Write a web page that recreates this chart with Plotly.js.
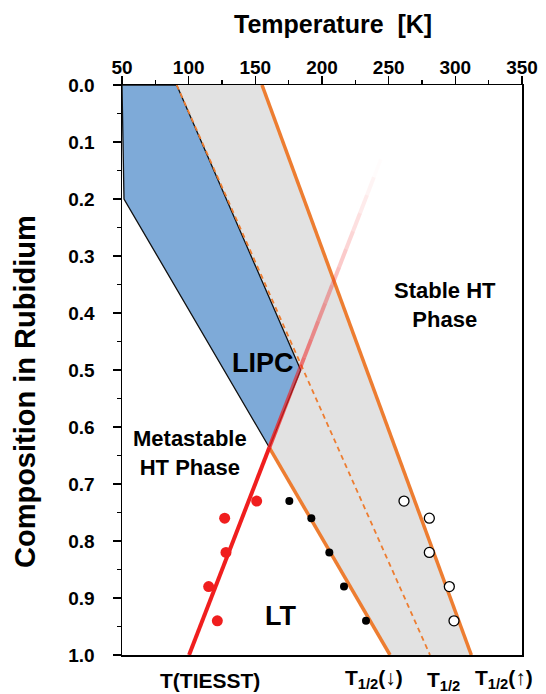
<!DOCTYPE html>
<html><head><meta charset="utf-8">
<script src="https://cdn.plot.ly/plotly-3.0.1.min.js"></script>
<style>html,body{margin:0;padding:0;background:#fff}#chart{width:546px;height:694px}</style>
</head><body><div id="chart"></div>
<script>
// ---- data ----
const lipcT = [50, 91, 184, 160.5, 51.5, 50];
const lipcComp = [0, 0, 0.5, 0.636, 0.2, 0];
const bandT = [50, 155, 312, 251, 51.5];
const bandComp = [0, 0, 1, 1, 0.2];
const halfUpT = [155, 312];
const halfUpComp = [0, 1];
const halfT = [91, 281];
const halfComp = [0, 1];
const halfDownT = [160.5, 251];
const halfDownComp = [0.636, 1];
const tiesstLineT = [100.3, 160.5];
const tiesstLineComp = [1.0, 0.636];
const tiesstFadeEndComp = 0.13;
const sampleComp = [0.73, 0.76, 0.82, 0.88, 0.94];
const tiesstT = [151, 127, 128, 115, 121.5];
const halfDownPtsT = [175.5, 192, 205.5, 216.5, 233];
const halfUpPtsT = [261.5, 280.5, 280.5, 295.5, 299];
const xTicks = [50, 100, 150, 200, 250, 300, 350];

const FONT = 'Arial, "Liberation Sans", sans-serif';
const ORANGE = '#ed7d31';
const RED = '#f01e1e';

const traces = [];
traces.push({x: bandT, y: bandComp, type: 'scatter', mode: 'lines', fill: 'toself',
  fillcolor: '#e2e2e2', line: {width: 0, color: 'rgba(0,0,0,0)'}, hoverinfo: 'skip', showlegend: false});
traces.push({x: lipcT, y: lipcComp, type: 'scatter', mode: 'lines', fill: 'toself',
  fillcolor: '#7eaad8', line: {width: 1.3, color: '#111'}, hoverinfo: 'skip', showlegend: false});
traces.push({x: halfT, y: halfComp, type: 'scatter', mode: 'lines',
  line: {width: 1.8, color: ORANGE, dash: '5px,4px'}, hoverinfo: 'skip', showlegend: false});
traces.push({x: halfUpT, y: halfUpComp, type: 'scatter', mode: 'lines',
  line: {width: 3.5, color: ORANGE}, hoverinfo: 'skip', showlegend: false});
traces.push({x: halfDownT, y: halfDownComp, type: 'scatter', mode: 'lines',
  line: {width: 3.5, color: ORANGE}, hoverinfo: 'skip', showlegend: false});
traces.push({x: tiesstLineT, y: tiesstLineComp, type: 'scatter', mode: 'lines',
  line: {width: 4, color: RED}, hoverinfo: 'skip', showlegend: false});
// fading continuation of the TIESST line (styling only)
const slope = (tiesstLineT[1] - tiesstLineT[0]) / (tiesstLineComp[1] - tiesstLineComp[0]);
const tAt = c => tiesstLineT[0] + (c - tiesstLineComp[0]) * slope;
const N = 16;
for (let i = 0; i < N; i++) {
  const c0 = tiesstLineComp[1] + (tiesstFadeEndComp - tiesstLineComp[1]) * i / N;
  const c1 = tiesstLineComp[1] + (tiesstFadeEndComp - tiesstLineComp[1]) * (i + 1) / N;
  const a = 0.85 * Math.pow(1 - (i + 0.5) / N, 1.2);
  traces.push({x: [tAt(c0), tAt(c1)], y: [c0, c1], type: 'scatter', mode: 'lines',
    line: {width: 4, color: 'rgba(240,30,30,' + a.toFixed(3) + ')'}, hoverinfo: 'skip', showlegend: false});
}
traces.push({x: tiesstT, y: sampleComp, type: 'scatter', mode: 'markers', name: 'T(TIESST)',
  marker: {size: 11, color: RED}, showlegend: false});
traces.push({x: halfDownPtsT, y: sampleComp, type: 'scatter', mode: 'markers', name: 'T1/2 down',
  marker: {size: 8, color: '#000'}, showlegend: false});
traces.push({x: halfUpPtsT, y: sampleComp, type: 'scatter', mode: 'markers', name: 'T1/2 up',
  marker: {size: 10, color: '#fff', line: {color: '#000', width: 1.3}}, showlegend: false});

const L = 122, T = 85, W = 400, H = 570;
const px = v => (v - L) / W;
const py = v => 1 - (v - T) / H;
function ann(text, x, y, size, extra) {
  return Object.assign({text: text, xref: 'paper', yref: 'paper', x: px(x), y: py(y),
    showarrow: false, xanchor: 'center', yanchor: 'middle',
    font: {family: FONT, size: size, color: '#000', weight: 'bold'}}, extra || {});
}
const annotations = [
  ann('Temperature  [K]', 333, 24, 25),
  ann('Composition in Rubidium', 25, 392, 29, {textangle: -90}),
  ann('LIPC', 263, 363, 27),
  ann('Stable HT<br>Phase', 445, 305, 22),
  ann('Metastable<br>HT Phase', 190, 453, 22),
  ann('LT', 280, 616, 27),
  ann('T(TIESST)', 210, 680, 21),
  ann('T<sub>1/2</sub>(↓)', 374, 679, 21),
  ann('T<sub>1/2</sub>', 443, 681, 21),
  ann('T<sub>1/2</sub>(↑)', 504, 679, 21)
];

const layout = {
  width: 546, height: 694,
  margin: {l: L, r: 546 - L - W, t: T, b: 694 - T - H},
  paper_bgcolor: '#fff', plot_bgcolor: '#fff',
  showlegend: false,
  xaxis: {side: 'top', range: [50, 350], tickvals: xTicks, ticks: 'outside', ticklen: 8, tickwidth: 1.3,
    tickcolor: '#000', showline: true, linewidth: 1.5, linecolor: '#000', mirror: true,
    showgrid: false, zeroline: false, ticklabelstandoff: -6,
    tickfont: {family: FONT, size: 19, color: '#000', weight: 'bold'},
    minor: {dtick: 25, ticks: 'outside', ticklen: 4, tickcolor: '#000', tickwidth: 1.2, showgrid: false}},
  yaxis: {range: [1.0, 0.0], dtick: 0.1, tick0: 0, tickformat: '.1f', ticks: 'outside', ticklen: 8, tickwidth: 1.3,
    tickcolor: '#000', showline: true, linewidth: 1.5, linecolor: '#000', mirror: true,
    showgrid: false, zeroline: false, ticklabelstandoff: 14,
    tickfont: {family: FONT, size: 19, color: '#000', weight: 'bold'},
    minor: {dtick: 0.05, ticks: 'outside', ticklen: 4, tickcolor: '#000', tickwidth: 1.2, showgrid: false}},
  annotations: annotations
};
Plotly.newPlot('chart', traces, layout, {displayModeBar: false, staticPlot: true});
</script></body></html>
